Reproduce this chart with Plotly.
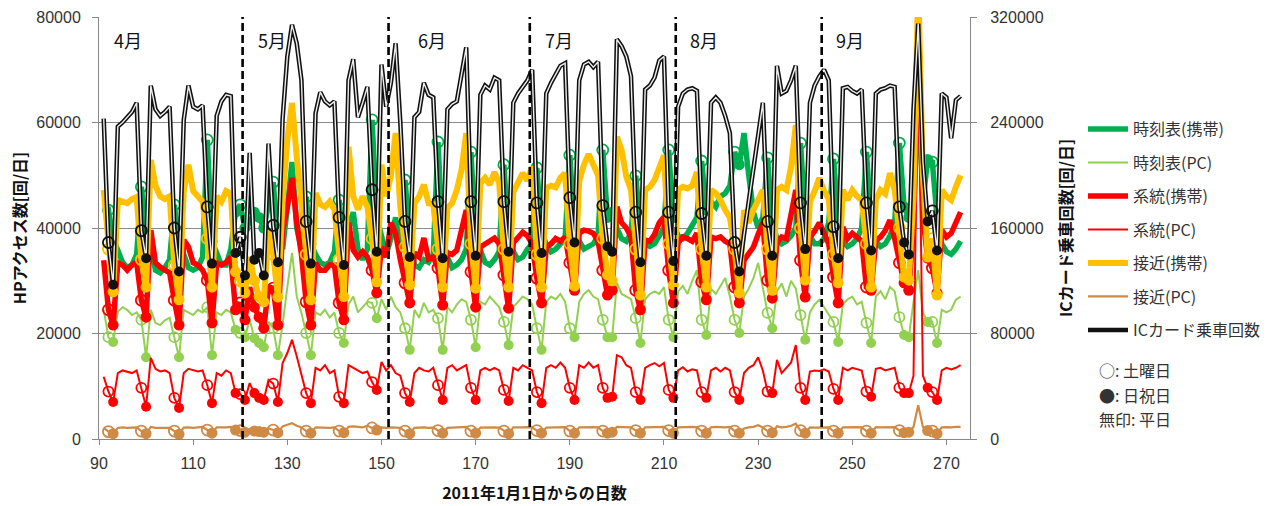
import plotly.graph_objects as go

# ---------------- data ----------------
days = list(range(91, 274))  # day-of-year 2011 (Apr 1 .. Sep 30)

saturdays = [92, 99, 106, 113, 120, 127, 134, 141, 148, 155, 162, 169, 176, 183,
             190, 197, 204, 211, 218, 225, 232, 239, 246, 253, 260, 267]
sundays_holidays = [93, 100, 107, 114, 119, 121, 123, 124, 125, 128, 135, 142, 149,
                    156, 163, 170, 177, 184, 191, 198, 199, 205, 212, 219, 226, 233,
                    240, 247, 254, 261, 262, 266, 268]

# rows: Apr1-3, then weeks Mon..Sun, then Sep 26-30
ic_card = [
    243000, 149000, 117000,
    237000, 240000, 244000, 248000, 255000, 158000, 137000,
    268000, 250000, 245000, 248000, 252000, 160000, 127000,
    242000, 268000, 252000, 250000, 253000, 176000, 133000,
    245000, 256000, 261000, 260000, 141000, 153000, 124000,
    217000, 136000, 141000, 124000, 224000, 162000, 134000,
    243000, 290000, 314000, 300000, 272000, 165000, 133000,
    247000, 263000, 256000, 253000, 256000, 168000, 132000,
    272000, 288000, 244000, 255000, 267000, 189000, 142000,
    284000, 252000, 270000, 300000, 240000, 165000, 138000,
    244000, 248000, 270000, 261000, 259000, 180000, 137000,
    250000, 254000, 256000, 275000, 297000, 180000, 139000,
    261000, 268000, 265000, 274000, 272000, 180000, 142000,
    255000, 262000, 267000, 272000, 280000, 179000, 141000,
    262000, 270000, 276000, 283000, 285000, 183000, 149000,
    272000, 284000, 286000, 282000, 286000, 177000, 146000,
    142000, 303000, 298000, 290000, 275000, 172000, 134000,
    265000, 268000, 274000, 287000, 290000, 172000, 135000,
    252000, 262000, 265000, 266000, 264000, 171000, 139000,
    255000, 259000, 255000, 245000, 232000, 149000, 127000,
    155000, 180000, 205000, 232000, 255000, 165000, 139000,
    283000, 262000, 264000, 272000, 283000, 179000, 144000,
    255000, 268000, 275000, 280000, 272000, 161000, 137000,
    266000, 267000, 264000, 262000, 265000, 179000, 143000,
    262000, 265000, 266000, 268000, 267000, 176000, 149000,
    140000, 250000, 315000, 210000, 165000, 173000, 143000,
    262000, 259000, 228000, 257000, 260000,
]

timetable_mobile = [
    43000, 43400, 38000,
    36000, 33500, 32500, 33000, 35000, 47800, 38000,
    36500, 32000, 31500, 32500, 34000, 44400, 36500,
    35000, 32500, 32000, 32500, 34500, 56700, 37500,
    35000, 33000, 33000, 36000, 43000, 44400, 40000,
    41000, 43000, 42000, 40000, 44000, 48700, 38000,
    36000, 44000, 52500, 40000, 36000, 45900, 37000,
    35000, 33500, 33000, 33500, 35500, 45300, 37000,
    40000, 43000, 36000, 34000, 36000, 60500, 42000,
    38000, 35000, 38000, 42000, 36000, 49100, 38000,
    33000, 32500, 34000, 33500, 35000, 56300, 38000,
    34500, 32500, 33000, 34000, 36000, 54400, 38000,
    35500, 33500, 33000, 34000, 35500, 52000, 38000,
    35500, 34000, 34500, 36000, 37000, 51400, 39000,
    37000, 35500, 36000, 37000, 38000, 53800, 40000,
    37500, 36000, 36500, 37000, 38500, 54800, 42000,
    43000, 40000, 38000, 37500, 39000, 49900, 40000,
    37000, 36500, 37000, 38500, 40000, 54800, 41000,
    38500, 38000, 39000, 40500, 42000, 52700, 43400,
    45000, 44000, 46000, 46600, 48000, 54400, 52000,
    58000, 50000, 43000, 40000, 42000, 53300, 41000,
    38000, 37000, 37500, 38500, 40000, 56100, 42000,
    38500, 37000, 37000, 38000, 41000, 53100, 42000,
    37500, 36500, 37000, 38000, 40000, 54400, 41000,
    37500, 36500, 37000, 38500, 41000, 56100, 44000,
    42000, 40000, 70000, 45000, 53000, 52500, 42000,
    37000, 35500, 35000, 36000, 37500,
]

timetable_pc = [
    24500, 19300, 18400,
    24100, 25000, 24500, 23500, 24000, 22600, 15500,
    24500, 22000, 21600, 22500, 23000, 19300, 15500,
    24500, 24000, 23500, 24500, 24000, 25000, 15900,
    24000, 23500, 24500, 24000, 20700, 20100, 19300,
    22600, 19100, 18200, 17400, 22200, 21000, 15900,
    21800, 28800, 35300, 27000, 23900, 20100, 15900,
    24000, 23500, 24500, 23000, 24000, 20100, 18200,
    25500, 27000, 24000, 25000, 26000, 25800, 22900,
    26500, 24500, 27000, 25000, 24000, 21000, 16900,
    24500, 23000, 25800, 24000, 24500, 22900, 16900,
    25000, 24000, 25500, 26500, 26000, 22600, 17400,
    26000, 25500, 27000, 26000, 25000, 22200, 17800,
    25000, 26000, 27000, 26500, 25500, 21000, 16900,
    26000, 27000, 26500, 27500, 26000, 21000, 19300,
    26000, 27500, 28200, 27000, 26500, 22600, 19300,
    19300, 29600, 27500, 27000, 26500, 22900, 18200,
    26500, 27500, 28000, 27500, 28800, 22600, 19300,
    28000, 29000, 27500, 30000, 32000, 22600, 19700,
    28500, 27500, 29000, 30500, 27000, 22600, 20100,
    27000, 28500, 30500, 33400, 29000, 23900, 21000,
    28000, 29500, 27000, 30000, 28500, 23500, 18800,
    24000, 25500, 26400, 25000, 23500, 22200, 18400,
    25500, 26500, 27000, 25500, 26000, 22000, 18200,
    27000, 28000, 26500, 28800, 28000, 23100, 19700,
    19300, 26000, 32000, 24000, 22200, 22200, 18200,
    24500, 24000, 24500, 26400, 27000,
]

route_mobile = [
    33900, 24500, 21600,
    33400, 33000, 32000, 33000, 33500, 26300, 23100,
    39600, 33400, 32600, 32000, 31500, 26300, 21600,
    37700, 36400, 33400, 33000, 32000, 30100, 22000,
    33400, 33000, 33500, 34500, 24500, 25800, 22600,
    28800, 25000, 23100, 21000, 28800, 28600, 21600,
    39600, 44000, 49500, 41000, 35000, 26000, 21600,
    33400, 32000, 32000, 33000, 33000, 25800, 22600,
    41000, 35800, 34500, 35500, 34500, 32000, 27700,
    36400, 34500, 41000, 39000, 34000, 29600, 25800,
    35300, 34500, 38100, 34100, 34500, 32400, 25400,
    35300, 35000, 35800, 39600, 43400, 31700, 25000,
    36400, 37000, 37500, 38100, 37000, 31100, 24800,
    37200, 38100, 39200, 38500, 37000, 30500, 25800,
    36400, 37000, 38000, 37500, 38300, 33400, 28200,
    39000, 39600, 39400, 39000, 37500, 32000, 27300,
    28200, 44000, 41000, 40000, 38300, 28200, 24500,
    37700, 37500, 38800, 41000, 42100, 32000, 25800,
    37200, 38300, 38000, 37500, 39000, 29800, 26400,
    38300, 38000, 38300, 37500, 37000, 28800, 25800,
    33900, 35000, 36400, 38800, 41000, 30100, 26700,
    37200, 38300, 38000, 42100, 47200, 33900, 26900,
    38300, 39400, 41000, 39000, 37000, 30700, 25800,
    40200, 38000, 39000, 38300, 37500, 28800, 28200,
    37700, 38300, 39500, 41500, 38000, 33400, 29600,
    28200, 40000, 78000, 42000, 34300, 32400, 27700,
    39600, 38300, 39000, 41000, 43000,
]

route_pc = [
    11800, 9000, 7000,
    12500, 13000, 12800, 12500, 13000, 9700, 6100,
    15400, 13300, 12800, 13000, 12500, 7800, 5900,
    12500, 13300, 13000, 12800, 13000, 10200, 6800,
    12500, 12000, 13000, 12500, 8700, 8500, 7400,
    10600, 8700, 7800, 7400, 11200, 10500, 7000,
    14400, 16300, 18800, 15700, 12000, 8700, 6800,
    13500, 13000, 14000, 12500, 13000, 8000, 6800,
    14000, 13500, 13000, 12500, 12800, 10800, 9300,
    14600, 13000, 14000, 12500, 12000, 8700, 7000,
    12500, 13500, 13000, 12800, 13500, 10200, 7400,
    13500, 14000, 13000, 13500, 14000, 9700, 7400,
    13000, 13500, 13000, 13500, 13000, 9300, 7200,
    13500, 13000, 14000, 13500, 13000, 8900, 6800,
    13500, 14000, 13500, 14500, 13500, 9700, 7400,
    14000, 13500, 14500, 13500, 14000, 9700, 7800,
    8000, 15900, 15500, 14000, 13500, 8900, 7400,
    13500, 14000, 14400, 13800, 14400, 9300, 7800,
    13000, 13600, 12800, 13200, 13000, 8900, 7800,
    13000, 13500, 12800, 13500, 13000, 8900, 7400,
    12500, 13500, 14000, 15500, 13000, 9000, 8700,
    15000, 12500, 13500, 14500, 17800, 9700, 7400,
    12800, 13000, 12900, 13200, 12800, 9500, 7400,
    13500, 13000, 13500, 13200, 13000, 9000, 8000,
    13300, 13500, 13000, 13300, 13500, 9700, 8700,
    8700, 12000, 74000, 12000, 9700, 8900, 7400,
    13000, 13500, 13200, 13500, 14000,
]

approach_mobile = [
    47200, 36000, 27900,
    45300, 45000, 44700, 45500, 45900, 34000, 28800,
    52900, 48000, 46000, 45500, 46000, 33000, 26400,
    47000, 52000, 47000, 46000, 45000, 38000, 28800,
    46000, 45000, 47000, 46500, 31700, 30000, 27700,
    34500, 30000, 27000, 26000, 39600, 35000, 26900,
    45300, 56700, 63700, 53500, 45300, 35000, 26400,
    46600, 44500, 44000, 45000, 43500, 34000, 27000,
    55400, 46000, 43500, 46000, 44000, 38000, 29800,
    52000, 46000, 50000, 58000, 44000, 36400, 29200,
    44700, 46000, 48200, 44700, 44500, 36000, 28800,
    43800, 44700, 47200, 51000, 58000, 37000, 28600,
    48500, 49500, 48200, 50600, 48500, 36000, 28800,
    46800, 48700, 50400, 49000, 51600, 35000, 28800,
    47600, 48000, 47700, 49500, 50400, 37000, 29000,
    49000, 52000, 54000, 52000, 50000, 38000, 31100,
    30000, 57300, 54800, 49700, 47200, 36000, 27300,
    47200, 47800, 49100, 51400, 53800, 37000, 29200,
    47200, 47800, 47500, 48000, 50600, 36000, 28800,
    47200, 46600, 45300, 43400, 42000, 36000, 27700,
    43400, 41000, 43400, 45300, 47200, 36000, 28200,
    47200, 47800, 47200, 51600, 59500, 40000, 30100,
    45000, 47000, 49500, 47000, 45500, 35000, 29600,
    47200, 45300, 47200, 46000, 45300, 37000, 28800,
    45300, 47200, 46500, 50400, 47200, 40000, 30700,
    30100, 46000, 86000, 50000, 34500, 38000, 27300,
    47200, 46000, 45300, 47800, 50000,
]

approach_pc = [
    2100, 1400, 1000,
    2100, 2200, 2100, 2150, 2200, 1500, 1000,
    2300, 2100, 2100, 2050, 2100, 1500, 900,
    2150, 2200, 2100, 2200, 2300, 1700, 1100,
    2200, 2150, 2200, 2300, 1700, 1600, 1300,
    1900, 1500, 1400, 1300, 2000, 1700, 1200,
    2400, 2700, 3000, 2500, 2200, 1500, 1100,
    2200, 2150, 2200, 2100, 2200, 1500, 1200,
    2300, 2400, 2300, 2200, 2500, 2100, 1700,
    2200, 2100, 2200, 2150, 2100, 1500, 1000,
    2100, 2150, 2200, 2100, 2150, 1600, 1100,
    2100, 2150, 2200, 2250, 2300, 1500, 1100,
    2150, 2200, 2150, 2200, 2150, 1500, 1000,
    2200, 2150, 2200, 2250, 2200, 1600, 1100,
    2150, 2200, 2250, 2200, 2250, 1500, 1100,
    2200, 2250, 2200, 2250, 2200, 1500, 1100,
    1300, 2300, 2250, 2200, 2200, 1600, 1100,
    2200, 2250, 2300, 2250, 2300, 1600, 1100,
    2200, 2250, 2200, 2300, 2250, 1500, 1100,
    2200, 2300, 2250, 2200, 2300, 1500, 1100,
    2000, 2200, 2300, 2600, 2200, 1500, 1200,
    2400, 2200, 2300, 2500, 2900, 1600, 1100,
    2200, 2150, 2200, 2250, 2200, 1500, 1100,
    2200, 2250, 2200, 2250, 2200, 1500, 1100,
    2250, 2200, 2250, 2300, 2250, 1600, 1200,
    1300, 2300, 6400, 2300, 1600, 1500, 1000,
    2200, 2250, 2200, 2300, 2300,
]

series_names = ["時刻表(携帯)", "時刻表(PC)", "系統(携帯)", "系統(PC)",
                "接近(携帯)", "接近(PC)", "ICカード乗車回数"]

month_labels = ["4月", "5月", "6月", "7月", "8月", "9月"]
month_label_x = [96.1, 126.7, 160.7, 187.6, 218.6, 249.5]
month_boundaries = [120.5, 151.5, 181.5, 212.5, 243.5]

x_ticks = [90, 110, 130, 150, 170, 190, 210, 230, 250, 270]
y_left_ticks = [0, 20000, 40000, 60000, 80000]
y_right_ticks = [0, 80000, 160000, 240000, 320000]

# ---------------- figure ----------------
JP = "Noto Sans CJK JP"
NUM = "Liberation Sans"

fig = go.Figure()


def pick(vals, wanted):
    xs, ys = [], []
    for d, v in zip(days, vals):
        if d in wanted:
            xs.append(d)
            ys.append(v)
    return xs, ys


def add_series(name, vals, color, width, msize, axis="y"):
    fig.add_trace(go.Scatter(
        x=days, y=vals, mode="lines", name=name, legendgroup=name,
        line=dict(color=color, width=width), yaxis=axis))
    sx, sy = pick(vals, saturdays)
    fig.add_trace(go.Scatter(
        x=sx, y=sy, mode="markers", legendgroup=name, showlegend=False,
        marker=dict(symbol="circle-open", size=msize, color=color,
                    line=dict(width=1.8, color=color)), yaxis=axis))
    hx, hy = pick(vals, sundays_holidays)
    fig.add_trace(go.Scatter(
        x=hx, y=hy, mode="markers", legendgroup=name, showlegend=False,
        marker=dict(symbol="circle", size=msize, color=color), yaxis=axis))


add_series(series_names[0], timetable_mobile, "#00B050", 5.5, 11)
add_series(series_names[1], timetable_pc, "#92D050", 2.0, 10)
add_series(series_names[2], route_mobile, "#FF0000", 5.5, 11)
add_series(series_names[3], route_pc, "#FF0000", 2.0, 10)
add_series(series_names[4], approach_mobile, "#FFC000", 6.0, 11)
add_series(series_names[5], approach_pc, "#CF8A45", 2.2, 11)

# IC card: double line (black outline + light core) on secondary axis
ic_name = series_names[6]
fig.add_trace(go.Scatter(x=days, y=ic_card, mode="lines", name=ic_name,
                         legendgroup=ic_name, line=dict(color="#111111", width=4.5),
                         yaxis="y2"))
fig.add_trace(go.Scatter(x=days, y=ic_card, mode="lines", legendgroup=ic_name,
                         showlegend=False, line=dict(color="#eeeeee", width=1.4),
                         yaxis="y2", hoverinfo="skip"))
sx, sy = pick(ic_card, saturdays)
fig.add_trace(go.Scatter(x=sx, y=sy, mode="markers", legendgroup=ic_name,
                         showlegend=False, yaxis="y2",
                         marker=dict(symbol="circle-open", size=11, color="#111111",
                                     line=dict(width=1.8, color="#111111"))))
hx, hy = pick(ic_card, sundays_holidays)
fig.add_trace(go.Scatter(x=hx, y=hy, mode="markers", legendgroup=ic_name,
                         showlegend=False, yaxis="y2",
                         marker=dict(symbol="circle", size=10, color="#111111")))

shapes = []
for b in month_boundaries:
    shapes.append(dict(type="line", xref="x", yref="paper", x0=b, x1=b, y0=0, y1=1,
                       line=dict(color="black", width=2.6, dash="8px,4px"),
                       layer="above"))

annotations = []
for lab, xm in zip(month_labels, month_label_x):
    annotations.append(dict(text=lab, x=xm, xref="x", y=0.9455, yref="paper",
                            showarrow=False, font=dict(family=JP, size=18, color="#111"),
                            xanchor="center", yanchor="middle"))

note_lines = ["○: 土曜日", "●: 日祝日", "無印: 平日"]
note_y = [370, 395, 419]
for t, py in zip(note_lines, note_y):
    annotations.append(dict(text=t, xref="paper", x=(1097 - 99) / 871,
                            yref="paper", y=1 - (py - 17) / 422,
                            showarrow=False, xanchor="left", yanchor="middle",
                            font=dict(family=JP, size=16, color="#333")))

fig.update_layout(
    width=1277, height=506,
    margin=dict(l=99, r=307, t=17, b=67, autoexpand=False),
    paper_bgcolor="white", plot_bgcolor="white",
    showlegend=True,
    legend=dict(x=(1083 - 99) / 871, xanchor="left", y=1 - (112 - 17) / 422,
                yanchor="top", traceorder="grouped", tracegroupgap=9.7,
                itemwidth=40, font=dict(family=JP, size=16, color="#333"),
                bgcolor="rgba(0,0,0,0)"),
    xaxis=dict(range=[90, 275], tickmode="array", tickvals=x_ticks,
               showgrid=False, zeroline=False, showline=True, linecolor="#888",
               linewidth=1, ticks="outside", ticklen=5, tickcolor="#888",
               ticklabelstandoff=5,
               tickfont=dict(family=NUM, size=16, color="#333"),
               title=dict(text="2011年1月1日からの日数", standoff=16,
                          font=dict(family=JP, size=16, color="#111", weight="bold"))),
    yaxis=dict(range=[0, 80000], tickmode="array", tickvals=y_left_ticks,
               tickformat="d",
               showgrid=True, gridcolor="#8a8a8a", gridwidth=1, zeroline=False,
               showline=True, linecolor="#888", linewidth=1, ticks="outside",
               ticklen=6, tickcolor="#888", ticklabelstandoff=8,
               tickfont=dict(family=NUM, size=16, color="#333"),
               title=dict(text="HPアクセス数[回/日]", standoff=5,
                          font=dict(family=JP, size=16, color="#111", weight="bold"))),
    yaxis2=dict(range=[0, 320000], tickmode="array", tickvals=y_right_ticks,
                tickformat="d",
                overlaying="y", side="right", showgrid=False, zeroline=False,
                showline=True, linecolor="#888", linewidth=1, ticks="outside",
                ticklen=6, tickcolor="#888", ticklabelstandoff=10,
                tickfont=dict(family=NUM, size=16, color="#333"),
                title=dict(text="ICカード乗車回数[回/日]", standoff=18,
                           font=dict(family=JP, size=16, color="#111", weight="bold"))),
    shapes=shapes,
    annotations=annotations,
)

fig.write_html("out.html")
